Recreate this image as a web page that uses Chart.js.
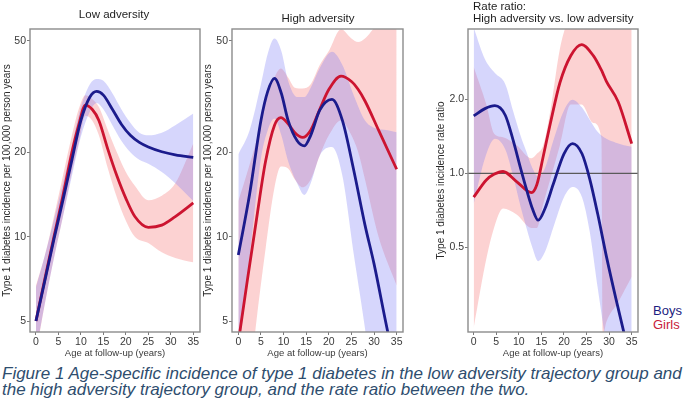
<!DOCTYPE html>
<html><head><meta charset="utf-8">
<script src="https://cdn.jsdelivr.net/npm/chart.js@4/dist/chart.umd.min.js"></script>
<style>
body{margin:0;background:#fff;width:685px;height:407px;overflow:hidden;position:relative;font-family:"Liberation Sans",Arial,sans-serif;}
canvas{position:absolute;top:0;}
.t{position:absolute;font-size:11.5px;color:#1e1e1e;white-space:nowrap;line-height:1;}
.c{transform:translate(-50%,-50%);}
.cap{position:absolute;left:2px;top:366px;font-size:17px;font-style:italic;color:#2e4d6e;line-height:16px;white-space:nowrap;}
</style></head><body>
<canvas id="c1" width="205" height="362" style="left:0px"></canvas>
<canvas id="c2" width="206" height="362" style="left:201px"></canvas>
<canvas id="c3" width="210" height="362" style="left:434px"></canvas>
<div class="t c" style="left:114px;top:15px">Low adversity</div>
<div class="t c" style="left:318px;top:19px">High adversity</div>
<div class="t" style="left:473px;top:1px">Rate ratio:</div>
<div class="t" style="left:473px;top:13px">High adversity vs. low adversity</div>
<div class="t" style="left:653px;top:304px;font-size:13px;color:#1c1c80">Boys</div>
<div class="t" style="left:653px;top:318px;font-size:13px;color:#c8203a">Girls</div>
<div class="cap">Figure 1 Age-specific incidence of type 1 diabetes in the low adversity trajectory group and<br>the high adversity trajectory group, and the rate ratio between the two.</div>
<script>
// ---- axis ticks ----
const ageTicks = [0, 5, 10, 15, 20, 25, 30, 35];
const incTicks = [5, 10, 20, 50];
const ratioTicks = [0.5, 1, 2];
const refRatio = 1;

// ---- Low adversity ----
const lowBoysAge = [0, 2, 4, 6, 8, 10, 12, 13.5, 15, 17, 19, 21, 23, 25, 28, 31, 35];
const lowBoys    = [5.0, 7.0, 9.8, 13.5, 18.8, 26, 31.5, 33, 32, 28.5, 25.2, 23, 21.7, 20.9, 20.1, 19.6, 19.2];
const lowBoysLo  = [3.9, 5.8, 8.4, 11.8, 16.5, 22.8, 28, 30, 28.5, 25, 22, 20, 18.8, 18.2, 17, 15.5, 13.4];
const lowBoysHi  = [6.6, 8.6, 11.5, 15.5, 21.3, 29, 35, 36.5, 36, 32.5, 28.5, 25.5, 23.5, 23, 23.5, 25, 27.5];

const lowGirlsAge = [0, 2, 4, 6, 8, 9.5, 11, 12.5, 14, 16, 18, 20, 22, 25, 28, 31, 35];
const lowGirls    = [5.0, 7.1, 10, 14, 20, 25, 29.5, 28.5, 26, 20.5, 16.5, 13.7, 11.8, 10.8, 11.0, 11.8, 13.2];
const lowGirlsLo  = [3.8, 5.8, 8.4, 11.8, 17, 21.5, 27, 26, 23, 17.5, 13.8, 11.4, 10.0, 9.5, 8.8, 8.4, 8.1];
const lowGirlsHi  = [6.7, 8.6, 11.8, 16.5, 23, 28.5, 32, 31, 29, 24, 20, 17, 15.2, 13.5, 14, 15.5, 21.5];

// ---- High adversity ----
const highBoysAge = [0, 2.5, 5, 6.5, 8, 9.5, 11, 13, 14.6, 16, 18, 20.7, 23, 25.5, 28, 30, 33, 35];
const highBoys    = [8.6, 14.2, 26, 33, 36.7, 32.5, 26, 22, 21.1, 23, 28.3, 30.9, 26, 17.3, 11, 8, 4.6, 3.3];
const highBoysLo  = [3.75, 8.4, 19, 24, 26.4, 23, 18.6, 15.5, 14.1, 15.5, 19.5, 20.9, 16.5, 8.7, 4.7, 2.6, 0.9, 0.5];
const highBoysHi  = [19.7, 24, 35, 45, 51, 46, 36, 31.5, 31.5, 34, 40, 45.7, 41, 32, 26, 24.5, 24, 23.6];

const highGirlsAge = [0, 2, 4, 6, 8, 9.4, 11, 12.5, 14.2, 16, 18, 20, 22.7, 25, 26.5, 28, 31, 35];
const highGirls    = [4.2, 7.0, 11.5, 18.5, 25, 26.6, 25.3, 23.5, 22.6, 24, 28.5, 33.5, 37.4, 35.8, 33.5, 30.5, 24, 17.4];
const highGirlsLo  = [1.5, 2.5, 5, 9, 15, 17.8, 17.5, 16, 15, 16, 19.5, 23, 26, 23, 20, 16, 10, 6.7];
const highGirlsHi  = [13.4, 17, 22, 30, 37, 39.8, 37, 34, 33.8, 35, 41, 46, 55, 51, 49.5, 51, 58, 65];

// ---- Rate ratio ----
const ratioBoysAge = [0, 2.5, 4.7, 7, 8.7, 10.5, 11.7, 13, 14.3, 15.8, 17.6, 20, 21.9, 24, 25.7, 27.5, 29.4, 31.5, 33.3, 35];
const ratioBoys    = [1.71, 1.83, 1.88, 1.72, 1.37, 1.03, 0.86, 0.72, 0.645, 0.72, 0.9, 1.2, 1.32, 1.2, 0.95, 0.68, 0.46, 0.31, 0.225, 0.17];
const ratioBoysLo  = [0.75, 1.15, 1.38, 1.25, 0.98, 0.72, 0.6, 0.5, 0.44, 0.48, 0.6, 0.8, 0.88, 0.8, 0.58, 0.34, 0.2, 0.12, 0.07, 0.04];
const ratioBoysHi  = [3.9, 2.9, 2.55, 2.3, 1.8, 1.4, 1.22, 1.05, 0.97, 1.05, 1.35, 1.8, 1.99, 1.85, 1.65, 1.47, 1.38, 1.33, 1.3, 1.28];

const ratioGirlsAge = [0, 2.8, 4.5, 6.5, 9.5, 12.8, 14, 15.4, 17, 19.1, 21.5, 23.9, 26.5, 28.3, 28.6, 29.4, 32, 35];
const ratioGirls    = [0.80, 0.94, 0.99, 1.017, 0.926, 0.834, 0.9, 1.17, 1.6, 2.33, 3.0, 3.33, 3.0, 2.62, 2.55, 2.36, 1.95, 1.32];
const ratioGirlsLo  = [0.236, 0.45, 0.6, 0.72, 0.68, 0.6, 0.6, 0.75, 0.95, 1.3, 1.9, 1.9, 1.6, 1.39, 0.22, 0.25, 0.3, 0.38];
const ratioGirlsHi  = [2.7, 1.9, 1.45, 1.4, 1.3, 1.15, 1.2, 1.3, 1.8, 3.2, 4.5, 5.5, 5, 4.6, 4.6, 4.5, 4.5, 4.8];

// ---- styling ----
const BOY = '#1b1b8c', GIRL = '#cc1430';
const BOYBAND = 'rgba(120,120,245,0.30)', GIRLBAND = 'rgba(245,105,105,0.30)';
const FONT = '"Liberation Sans", Arial, sans-serif';

function pts(ages, vals) { return ages.map((a, i) => ({x: a, y: vals[i]})); }
function band(ages, lo, hi, color) {
  return [
    {data: pts(ages, hi), fill: '+1', backgroundColor: color, borderColor: 'rgba(0,0,0,0)', borderWidth: 0, pointRadius: 0, order: 3, cubicInterpolationMode: 'monotone'},
    {data: pts(ages, lo), fill: false, borderColor: 'rgba(0,0,0,0)', borderWidth: 0, pointRadius: 0, order: 3, cubicInterpolationMode: 'monotone'}
  ];
}
function line(ages, vals, color) {
  return {data: pts(ages, vals), fill: false, borderColor: color, borderWidth: 2.8, pointRadius: 0, order: 0, cubicInterpolationMode: 'monotone'};
}
const boxPlugin = {id: 'box', afterDraw(c) {
  const a = c.chartArea, ctx = c.ctx; ctx.save();
  ctx.strokeStyle = '#8c8c8c'; ctx.lineWidth = 1.4;
  ctx.strokeRect(a.left, a.top, a.right - a.left, a.bottom - a.top); ctx.restore();
}};

function makeChart(id, datasets, yMin, yMax, yTicks, yFmt, yTitle, yWidth, xMin, xMax, rightPad) {
  return new Chart(document.getElementById(id), {
    type: 'line',
    data: {datasets},
    plugins: [boxPlugin],
    options: {
      responsive: false, animation: false, events: [],
      layout: {padding: {top: 29, right: rightPad, left: 0, bottom: 0}},
      plugins: {legend: {display: false}, tooltip: {enabled: false}},
      scales: {
        x: {
          type: 'linear', min: xMin, max: xMax,
          afterBuildTicks: s => { s.ticks = ageTicks.map(v => ({value: v})); },
          afterFit: s => { s.height = 30; },
          grid: {drawOnChartArea: false, drawTicks: true, tickLength: 3, color: '#7a7a7a'},
          border: {display: false},
          ticks: {font: {family: FONT, size: 10.5}, color: '#3a3a3a', padding: 1, maxRotation: 0, autoSkip: false},
          title: {display: true, text: 'Age at follow-up (years)', font: {family: FONT, size: 9.5}, color: '#3a3a3a', padding: {top: 0, bottom: 3}}
        },
        y: {
          type: 'logarithmic', min: yMin, max: yMax,
          afterBuildTicks: s => { s.ticks = yTicks.map(v => ({value: v})); },
          afterFit: s => { s.width = yWidth; },
          grid: {drawOnChartArea: false, drawTicks: true, tickLength: 3, color: '#7a7a7a'},
          border: {display: false},
          ticks: {font: {family: FONT, size: 10.5}, color: '#3a3a3a', padding: 1, callback: yFmt, autoSkip: false},
          title: {display: true, text: yTitle, font: {family: FONT, size: 10}, color: '#2a2a2a', padding: {top: 1, bottom: 0}}
        }
      }
    }
  });
}

const incTitle = 'Type 1 diabetes incidence per 100,000 person years';
makeChart('c1', [
  line(lowBoysAge, lowBoys, BOY), line(lowGirlsAge, lowGirls, GIRL),
  ...band(lowBoysAge, lowBoysLo, lowBoysHi, BOYBAND),
  ...band(lowGirlsAge, lowGirlsLo, lowGirlsHi, GIRLBAND)
], 4.57, 55.1, incTicks, v => String(v), incTitle, 30, -1.33, 36.5, 5);

makeChart('c2', [
  line(highBoysAge, highBoys, BOY), line(highGirlsAge, highGirls, GIRL),
  ...band(highBoysAge, highBoysLo, highBoysHi, BOYBAND),
  ...band(highGirlsAge, highGirlsLo, highGirlsHi, GIRLBAND)
], 4.57, 55.1, incTicks, v => String(v), incTitle, 31, -1.4, 36.4, 4);

makeChart('c3', [
  {data: [{x: -5, y: refRatio}, {x: 40, y: refRatio}], borderColor: '#5a5a5a', borderWidth: 1.2, pointRadius: 0, fill: false, order: 1},
  line(ratioBoysAge, ratioBoys, BOY), line(ratioGirlsAge, ratioGirls, GIRL),
  ...band(ratioBoysAge, ratioBoysLo, ratioBoysHi, BOYBAND),
  ...band(ratioGirlsAge, ratioGirlsLo, ratioGirlsHi, GIRLBAND)
], 0.227, 3.85, ratioTicks, v => Number(v).toFixed(1), 'Type 1 diabetes incidence rate ratio', 34, -1.26, 36.4, 6);
</script>
</body></html>
